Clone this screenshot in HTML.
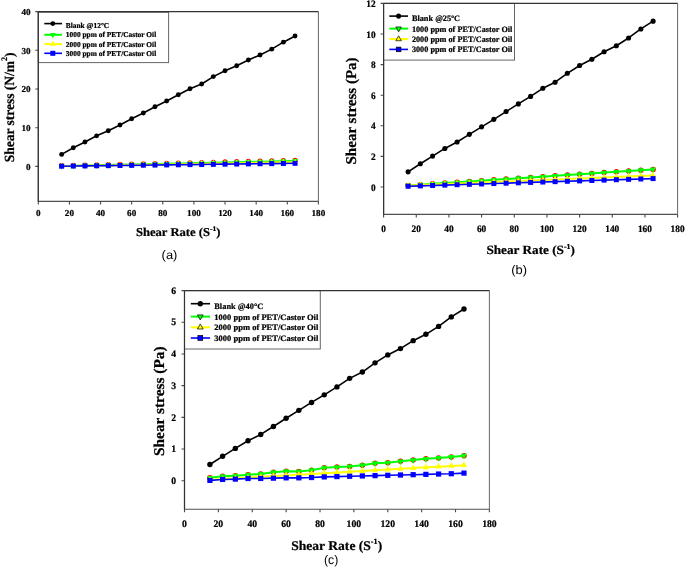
<!DOCTYPE html><html><head><meta charset="utf-8"><style>html,body{margin:0;padding:0;background:#fff;overflow:hidden}svg{display:block;will-change:transform;text-rendering:geometricPrecision}</style></head><body>
<svg width="685" height="567" viewBox="0 0 685 567">
<rect width="685" height="567" fill="#fff"/>
<path d="M318.4 11.6V201.4" fill="none" stroke="#666" stroke-width="1"/>
<path d="M38.3 11.6V201.4H318.4" fill="none" stroke="#505050" stroke-width="1.1"/>
<path d="M38.3 201.4v3M69.42 201.4v3M100.54 201.4v3M131.67 201.4v3M162.79 201.4v3M193.91 201.4v3M225.03 201.4v3M256.16 201.4v3M287.28 201.4v3M318.4 201.4v3M38.3 166.4h-3M38.3 127.7h-3M38.3 89h-3M38.3 50.3h-3M38.3 11.6h-3" stroke="#484848" stroke-width="1.1" fill="none"/>
<text x="38.3" y="216.3" font-family="'Liberation Serif',serif" font-weight="bold" font-size="9.1" text-anchor="middle" stroke="#000" stroke-width="0.22" textLength="4.55" lengthAdjust="spacingAndGlyphs">0</text>
<text x="69.42" y="216.3" font-family="'Liberation Serif',serif" font-weight="bold" font-size="9.1" text-anchor="middle" stroke="#000" stroke-width="0.22" textLength="9.1" lengthAdjust="spacingAndGlyphs">20</text>
<text x="100.54" y="216.3" font-family="'Liberation Serif',serif" font-weight="bold" font-size="9.1" text-anchor="middle" stroke="#000" stroke-width="0.22" textLength="9.1" lengthAdjust="spacingAndGlyphs">40</text>
<text x="131.67" y="216.3" font-family="'Liberation Serif',serif" font-weight="bold" font-size="9.1" text-anchor="middle" stroke="#000" stroke-width="0.22" textLength="9.1" lengthAdjust="spacingAndGlyphs">60</text>
<text x="162.79" y="216.3" font-family="'Liberation Serif',serif" font-weight="bold" font-size="9.1" text-anchor="middle" stroke="#000" stroke-width="0.22" textLength="9.1" lengthAdjust="spacingAndGlyphs">80</text>
<text x="193.91" y="216.3" font-family="'Liberation Serif',serif" font-weight="bold" font-size="9.1" text-anchor="middle" stroke="#000" stroke-width="0.22" textLength="13.65" lengthAdjust="spacingAndGlyphs">100</text>
<text x="225.03" y="216.3" font-family="'Liberation Serif',serif" font-weight="bold" font-size="9.1" text-anchor="middle" stroke="#000" stroke-width="0.22" textLength="13.65" lengthAdjust="spacingAndGlyphs">120</text>
<text x="256.16" y="216.3" font-family="'Liberation Serif',serif" font-weight="bold" font-size="9.1" text-anchor="middle" stroke="#000" stroke-width="0.22" textLength="13.65" lengthAdjust="spacingAndGlyphs">140</text>
<text x="287.28" y="216.3" font-family="'Liberation Serif',serif" font-weight="bold" font-size="9.1" text-anchor="middle" stroke="#000" stroke-width="0.22" textLength="13.65" lengthAdjust="spacingAndGlyphs">160</text>
<text x="318.4" y="216.3" font-family="'Liberation Serif',serif" font-weight="bold" font-size="9.1" text-anchor="middle" stroke="#000" stroke-width="0.22" textLength="13.65" lengthAdjust="spacingAndGlyphs">180</text>
<text x="30.6" y="169.8" font-family="'Liberation Serif',serif" font-weight="bold" font-size="9.1" text-anchor="end" stroke="#000" stroke-width="0.22" textLength="4.55" lengthAdjust="spacingAndGlyphs">0</text>
<text x="30.6" y="131.1" font-family="'Liberation Serif',serif" font-weight="bold" font-size="9.1" text-anchor="end" stroke="#000" stroke-width="0.22" textLength="9.1" lengthAdjust="spacingAndGlyphs">10</text>
<text x="30.6" y="92.4" font-family="'Liberation Serif',serif" font-weight="bold" font-size="9.1" text-anchor="end" stroke="#000" stroke-width="0.22" textLength="9.1" lengthAdjust="spacingAndGlyphs">20</text>
<text x="30.6" y="53.7" font-family="'Liberation Serif',serif" font-weight="bold" font-size="9.1" text-anchor="end" stroke="#000" stroke-width="0.22" textLength="9.1" lengthAdjust="spacingAndGlyphs">30</text>
<text x="30.6" y="15" font-family="'Liberation Serif',serif" font-weight="bold" font-size="9.1" text-anchor="end" stroke="#000" stroke-width="0.22" textLength="9.1" lengthAdjust="spacingAndGlyphs">40</text>
<rect x="38.3" y="12.3" width="130.3" height="50.3" fill="#fff" stroke="#666" stroke-width="1"/>
<path d="M38.3 11.6H318.4" stroke="#333" stroke-width="1.2"/>
<path d="M38.3 11.6V201.4" stroke="#333" stroke-width="1.2"/>
<circle cx="61.64" cy="165.55" r="2.55" fill="#ff0000"/>
<circle cx="73.31" cy="165.29" r="2.55" fill="#ff0000"/>
<circle cx="84.98" cy="165.03" r="2.55" fill="#ff0000"/>
<circle cx="96.65" cy="164.77" r="2.55" fill="#ff0000"/>
<circle cx="108.32" cy="164.51" r="2.55" fill="#ff0000"/>
<circle cx="120" cy="164.25" r="2.55" fill="#ff0000"/>
<circle cx="131.67" cy="163.99" r="2.55" fill="#ff0000"/>
<circle cx="143.34" cy="163.73" r="2.55" fill="#ff0000"/>
<circle cx="155.01" cy="163.47" r="2.55" fill="#ff0000"/>
<circle cx="166.68" cy="163.21" r="2.55" fill="#ff0000"/>
<circle cx="178.35" cy="162.96" r="2.55" fill="#ff0000"/>
<circle cx="190.02" cy="162.7" r="2.55" fill="#ff0000"/>
<circle cx="201.69" cy="162.44" r="2.55" fill="#ff0000"/>
<circle cx="213.36" cy="162.18" r="2.55" fill="#ff0000"/>
<circle cx="225.03" cy="161.92" r="2.55" fill="#ff0000"/>
<circle cx="236.7" cy="161.66" r="2.55" fill="#ff0000"/>
<circle cx="248.38" cy="161.4" r="2.55" fill="#ff0000"/>
<circle cx="260.05" cy="161.14" r="2.55" fill="#ff0000"/>
<circle cx="271.72" cy="160.88" r="2.55" fill="#ff0000"/>
<circle cx="283.39" cy="160.62" r="2.55" fill="#ff0000"/>
<circle cx="295.06" cy="160.36" r="2.55" fill="#ff0000"/>
<polyline points="61.64,166.13 73.31,165.87 84.98,165.61 96.65,165.35 108.32,165.09 120,164.83 131.67,164.57 143.34,164.31 155.01,164.05 166.68,163.8 178.35,163.54 190.02,163.28 201.69,163.02 213.36,162.76 225.03,162.5 236.7,162.24 248.38,161.98 260.05,161.72 271.72,161.46 283.39,161.2 295.06,160.94" fill="none" stroke="#00ff00" stroke-width="2" stroke-linejoin="round"/>
<path d="M58.84 164.26L64.44 164.26L61.64 169.86Z" fill="#00ff00"/>
<path d="M70.51 164L76.11 164L73.31 169.6Z" fill="#00ff00"/>
<path d="M82.18 163.74L87.78 163.74L84.98 169.34Z" fill="#00ff00"/>
<path d="M93.85 163.48L99.45 163.48L96.65 169.08Z" fill="#00ff00"/>
<path d="M105.52 163.23L111.12 163.23L108.32 168.83Z" fill="#00ff00"/>
<path d="M117.2 162.97L122.8 162.97L120 168.57Z" fill="#00ff00"/>
<path d="M128.87 162.71L134.47 162.71L131.67 168.31Z" fill="#00ff00"/>
<path d="M140.54 162.45L146.14 162.45L143.34 168.05Z" fill="#00ff00"/>
<path d="M152.21 162.19L157.81 162.19L155.01 167.79Z" fill="#00ff00"/>
<path d="M163.88 161.93L169.48 161.93L166.68 167.53Z" fill="#00ff00"/>
<path d="M175.55 161.67L181.15 161.67L178.35 167.27Z" fill="#00ff00"/>
<path d="M187.22 161.41L192.82 161.41L190.02 167.01Z" fill="#00ff00"/>
<path d="M198.89 161.15L204.49 161.15L201.69 166.75Z" fill="#00ff00"/>
<path d="M210.56 160.89L216.16 160.89L213.36 166.49Z" fill="#00ff00"/>
<path d="M222.23 160.63L227.83 160.63L225.03 166.23Z" fill="#00ff00"/>
<path d="M233.9 160.37L239.5 160.37L236.7 165.97Z" fill="#00ff00"/>
<path d="M245.57 160.11L251.18 160.11L248.38 165.71Z" fill="#00ff00"/>
<path d="M257.25 159.85L262.85 159.85L260.05 165.45Z" fill="#00ff00"/>
<path d="M268.92 159.6L274.52 159.6L271.72 165.2Z" fill="#00ff00"/>
<path d="M280.59 159.34L286.19 159.34L283.39 164.94Z" fill="#00ff00"/>
<path d="M292.26 159.08L297.86 159.08L295.06 164.68Z" fill="#00ff00"/>
<polyline points="61.64,166.21 73.31,166 84.98,165.8 96.65,165.6 108.32,165.39 120,165.19 131.67,164.99 143.34,164.78 155.01,164.58 166.68,164.38 178.35,164.17 190.02,163.97 201.69,163.77 213.36,163.57 225.03,163.36 236.7,163.16 248.38,162.96 260.05,162.75 271.72,162.55 283.39,162.35 295.06,162.14" fill="none" stroke="#ffff00" stroke-width="2" stroke-linejoin="round"/>
<path d="M58.84 168.07L64.44 168.07L61.64 162.47Z" fill="#ffff00"/>
<path d="M70.51 167.87L76.11 167.87L73.31 162.27Z" fill="#ffff00"/>
<path d="M82.18 167.67L87.78 167.67L84.98 162.07Z" fill="#ffff00"/>
<path d="M93.85 167.46L99.45 167.46L96.65 161.86Z" fill="#ffff00"/>
<path d="M105.52 167.26L111.12 167.26L108.32 161.66Z" fill="#ffff00"/>
<path d="M117.2 167.06L122.8 167.06L120 161.46Z" fill="#ffff00"/>
<path d="M128.87 166.85L134.47 166.85L131.67 161.25Z" fill="#ffff00"/>
<path d="M140.54 166.65L146.14 166.65L143.34 161.05Z" fill="#ffff00"/>
<path d="M152.21 166.45L157.81 166.45L155.01 160.85Z" fill="#ffff00"/>
<path d="M163.88 166.24L169.48 166.24L166.68 160.64Z" fill="#ffff00"/>
<path d="M175.55 166.04L181.15 166.04L178.35 160.44Z" fill="#ffff00"/>
<path d="M187.22 165.84L192.82 165.84L190.02 160.24Z" fill="#ffff00"/>
<path d="M198.89 165.64L204.49 165.64L201.69 160.04Z" fill="#ffff00"/>
<path d="M210.56 165.43L216.16 165.43L213.36 159.83Z" fill="#ffff00"/>
<path d="M222.23 165.23L227.83 165.23L225.03 159.63Z" fill="#ffff00"/>
<path d="M233.9 165.03L239.5 165.03L236.7 159.43Z" fill="#ffff00"/>
<path d="M245.57 164.82L251.18 164.82L248.38 159.22Z" fill="#ffff00"/>
<path d="M257.25 164.62L262.85 164.62L260.05 159.02Z" fill="#ffff00"/>
<path d="M268.92 164.42L274.52 164.42L271.72 158.82Z" fill="#ffff00"/>
<path d="M280.59 164.21L286.19 164.21L283.39 158.61Z" fill="#ffff00"/>
<path d="M292.26 164.01L297.86 164.01L295.06 158.41Z" fill="#ffff00"/>
<polyline points="61.64,166.21 73.31,166.06 84.98,165.92 96.65,165.77 108.32,165.63 120,165.48 131.67,165.34 143.34,165.19 155.01,165.05 166.68,164.9 178.35,164.76 190.02,164.61 201.69,164.47 213.36,164.32 225.03,164.17 236.7,164.03 248.38,163.88 260.05,163.74 271.72,163.59 283.39,163.45 295.06,163.3" fill="none" stroke="#0000ff" stroke-width="1.6" stroke-linejoin="round"/>
<rect x="59.14" y="163.71" width="5" height="5" fill="#0000ff"/>
<rect x="70.81" y="163.56" width="5" height="5" fill="#0000ff"/>
<rect x="82.48" y="163.42" width="5" height="5" fill="#0000ff"/>
<rect x="94.15" y="163.27" width="5" height="5" fill="#0000ff"/>
<rect x="105.82" y="163.13" width="5" height="5" fill="#0000ff"/>
<rect x="117.5" y="162.98" width="5" height="5" fill="#0000ff"/>
<rect x="129.17" y="162.84" width="5" height="5" fill="#0000ff"/>
<rect x="140.84" y="162.69" width="5" height="5" fill="#0000ff"/>
<rect x="152.51" y="162.55" width="5" height="5" fill="#0000ff"/>
<rect x="164.18" y="162.4" width="5" height="5" fill="#0000ff"/>
<rect x="175.85" y="162.26" width="5" height="5" fill="#0000ff"/>
<rect x="187.52" y="162.11" width="5" height="5" fill="#0000ff"/>
<rect x="199.19" y="161.97" width="5" height="5" fill="#0000ff"/>
<rect x="210.86" y="161.82" width="5" height="5" fill="#0000ff"/>
<rect x="222.53" y="161.67" width="5" height="5" fill="#0000ff"/>
<rect x="234.2" y="161.53" width="5" height="5" fill="#0000ff"/>
<rect x="245.88" y="161.38" width="5" height="5" fill="#0000ff"/>
<rect x="257.55" y="161.24" width="5" height="5" fill="#0000ff"/>
<rect x="269.22" y="161.09" width="5" height="5" fill="#0000ff"/>
<rect x="280.89" y="160.95" width="5" height="5" fill="#0000ff"/>
<rect x="292.56" y="160.8" width="5" height="5" fill="#0000ff"/>
<polyline points="61.64,154.4 73.31,147.82 84.98,142.02 96.65,135.83 108.32,130.8 120,124.99 131.67,118.8 143.34,112.99 155.01,106.8 166.68,101 178.35,94.81 190.02,88.81 201.69,83.97 213.36,76.62 225.03,70.81 236.7,65.78 248.38,59.98 260.05,54.94 271.72,49.14 283.39,42.17 295.06,35.98" fill="none" stroke="#000" stroke-width="1.6" stroke-linejoin="round"/>
<circle cx="61.64" cy="154.4" r="2.45" fill="#000"/>
<circle cx="73.31" cy="147.82" r="2.45" fill="#000"/>
<circle cx="84.98" cy="142.02" r="2.45" fill="#000"/>
<circle cx="96.65" cy="135.83" r="2.45" fill="#000"/>
<circle cx="108.32" cy="130.8" r="2.45" fill="#000"/>
<circle cx="120" cy="124.99" r="2.45" fill="#000"/>
<circle cx="131.67" cy="118.8" r="2.45" fill="#000"/>
<circle cx="143.34" cy="112.99" r="2.45" fill="#000"/>
<circle cx="155.01" cy="106.8" r="2.45" fill="#000"/>
<circle cx="166.68" cy="101" r="2.45" fill="#000"/>
<circle cx="178.35" cy="94.81" r="2.45" fill="#000"/>
<circle cx="190.02" cy="88.81" r="2.45" fill="#000"/>
<circle cx="201.69" cy="83.97" r="2.45" fill="#000"/>
<circle cx="213.36" cy="76.62" r="2.45" fill="#000"/>
<circle cx="225.03" cy="70.81" r="2.45" fill="#000"/>
<circle cx="236.7" cy="65.78" r="2.45" fill="#000"/>
<circle cx="248.38" cy="59.98" r="2.45" fill="#000"/>
<circle cx="260.05" cy="54.94" r="2.45" fill="#000"/>
<circle cx="271.72" cy="49.14" r="2.45" fill="#000"/>
<circle cx="283.39" cy="42.17" r="2.45" fill="#000"/>
<circle cx="295.06" cy="35.98" r="2.45" fill="#000"/>
<path d="M44.3 23.6H62" stroke="#000" stroke-width="1.6"/>
<circle cx="52.8" cy="23.6" r="2.45" fill="#000"/>
<text x="65.8" y="27.9" font-family="'Liberation Serif',serif" font-weight="bold" font-size="7.5" text-anchor="start" stroke="#000" stroke-width="0.22" textLength="43.4" lengthAdjust="spacingAndGlyphs">Blank @12°C</text>
<path d="M44.3 34.8H62" stroke="#00ff00" stroke-width="2"/>
<path d="M49.9 33.1L55.7 33.1L52.8 38.2Z" fill="#00ff00"/>
<text x="65.8" y="37.4" font-family="'Liberation Serif',serif" font-weight="bold" font-size="7.5" text-anchor="start" stroke="#000" stroke-width="0.22" textLength="90.4" lengthAdjust="spacingAndGlyphs">1000 ppm of PET/Castor Oil</text>
<path d="M44.3 44.1H62" stroke="#ffff00" stroke-width="2"/>
<path d="M49.9 45.8L55.7 45.8L52.8 40.7Z" fill="#ffff00"/>
<text x="65.8" y="46.8" font-family="'Liberation Serif',serif" font-weight="bold" font-size="7.5" text-anchor="start" stroke="#000" stroke-width="0.22" textLength="90.4" lengthAdjust="spacingAndGlyphs">2000 ppm of PET/Castor Oil</text>
<path d="M44.3 53.3H62" stroke="#0000ff" stroke-width="1.6"/>
<rect x="50.3" y="50.8" width="5" height="5" fill="#0000ff"/>
<text x="65.8" y="56.1" font-family="'Liberation Serif',serif" font-weight="bold" font-size="7.5" text-anchor="start" stroke="#000" stroke-width="0.22" textLength="90.4" lengthAdjust="spacingAndGlyphs">3000 ppm of PET/Castor Oil</text>
<text x="135.9" y="235.6" font-family="'Liberation Serif',serif" font-weight="bold" font-size="12" text-anchor="start" stroke="#000" stroke-width="0.22" textLength="74.18" lengthAdjust="spacingAndGlyphs">Shear Rate (S</text>
<text x="210.08" y="230.56" font-family="'Liberation Serif',serif" font-weight="bold" font-size="7.2" text-anchor="start" stroke="#000" stroke-width="0.22" textLength="6.32" lengthAdjust="spacingAndGlyphs">-1</text>
<text x="216.39" y="235.6" font-family="'Liberation Serif',serif" font-weight="bold" font-size="12" text-anchor="start" stroke="#000" stroke-width="0.22" textLength="4.21" lengthAdjust="spacingAndGlyphs">)</text>
<g transform="translate(14 162.3) rotate(-90)">
<text x="0" y="0" font-family="'Liberation Serif',serif" font-weight="bold" font-size="14" text-anchor="start" stroke="#000" stroke-width="0.22" textLength="101.27" lengthAdjust="spacingAndGlyphs">Shear stress (N/m</text>
<text x="101.27" y="-7" font-family="'Liberation Serif',serif" font-weight="bold" font-size="8.4" text-anchor="start" stroke="#000" stroke-width="0.22" textLength="4.04" lengthAdjust="spacingAndGlyphs">2</text>
<text x="105.31" y="0" font-family="'Liberation Serif',serif" font-weight="bold" font-size="14" text-anchor="start" stroke="#000" stroke-width="0.22" textLength="4.49" lengthAdjust="spacingAndGlyphs">)</text>
</g>
<text x="161.6" y="259" font-family="'Liberation Sans',sans-serif" font-weight="normal" font-size="12.3" text-anchor="start" textLength="15.8" lengthAdjust="spacingAndGlyphs">(a)</text>
<path d="M677.6 3.4V214.4" fill="none" stroke="#666" stroke-width="1"/>
<path d="M383.6 3.4V214.4H677.6" fill="none" stroke="#505050" stroke-width="1.1"/>
<path d="M383.6 214.4v3M416.27 214.4v3M448.93 214.4v3M481.6 214.4v3M514.27 214.4v3M546.93 214.4v3M579.6 214.4v3M612.27 214.4v3M644.93 214.4v3M677.6 214.4v3M383.6 187h-3M383.6 156.4h-3M383.6 125.8h-3M383.6 95.2h-3M383.6 64.6h-3M383.6 34h-3M383.6 3.4h-3" stroke="#484848" stroke-width="1.1" fill="none"/>
<text x="383.6" y="231.6" font-family="'Liberation Serif',serif" font-weight="bold" font-size="9.8" text-anchor="middle" stroke="#000" stroke-width="0.22" textLength="4.66" lengthAdjust="spacingAndGlyphs">0</text>
<text x="416.27" y="231.6" font-family="'Liberation Serif',serif" font-weight="bold" font-size="9.8" text-anchor="middle" stroke="#000" stroke-width="0.22" textLength="9.31" lengthAdjust="spacingAndGlyphs">20</text>
<text x="448.93" y="231.6" font-family="'Liberation Serif',serif" font-weight="bold" font-size="9.8" text-anchor="middle" stroke="#000" stroke-width="0.22" textLength="9.31" lengthAdjust="spacingAndGlyphs">40</text>
<text x="481.6" y="231.6" font-family="'Liberation Serif',serif" font-weight="bold" font-size="9.8" text-anchor="middle" stroke="#000" stroke-width="0.22" textLength="9.31" lengthAdjust="spacingAndGlyphs">60</text>
<text x="514.27" y="231.6" font-family="'Liberation Serif',serif" font-weight="bold" font-size="9.8" text-anchor="middle" stroke="#000" stroke-width="0.22" textLength="9.31" lengthAdjust="spacingAndGlyphs">80</text>
<text x="546.93" y="231.6" font-family="'Liberation Serif',serif" font-weight="bold" font-size="9.8" text-anchor="middle" stroke="#000" stroke-width="0.22" textLength="13.96" lengthAdjust="spacingAndGlyphs">100</text>
<text x="579.6" y="231.6" font-family="'Liberation Serif',serif" font-weight="bold" font-size="9.8" text-anchor="middle" stroke="#000" stroke-width="0.22" textLength="13.96" lengthAdjust="spacingAndGlyphs">120</text>
<text x="612.27" y="231.6" font-family="'Liberation Serif',serif" font-weight="bold" font-size="9.8" text-anchor="middle" stroke="#000" stroke-width="0.22" textLength="13.96" lengthAdjust="spacingAndGlyphs">140</text>
<text x="644.93" y="231.6" font-family="'Liberation Serif',serif" font-weight="bold" font-size="9.8" text-anchor="middle" stroke="#000" stroke-width="0.22" textLength="13.96" lengthAdjust="spacingAndGlyphs">160</text>
<text x="677.6" y="231.6" font-family="'Liberation Serif',serif" font-weight="bold" font-size="9.8" text-anchor="middle" stroke="#000" stroke-width="0.22" textLength="13.96" lengthAdjust="spacingAndGlyphs">180</text>
<text x="375.6" y="190.6" font-family="'Liberation Serif',serif" font-weight="bold" font-size="9.8" text-anchor="end" stroke="#000" stroke-width="0.22" textLength="4.66" lengthAdjust="spacingAndGlyphs">0</text>
<text x="375.6" y="160" font-family="'Liberation Serif',serif" font-weight="bold" font-size="9.8" text-anchor="end" stroke="#000" stroke-width="0.22" textLength="4.66" lengthAdjust="spacingAndGlyphs">2</text>
<text x="375.6" y="129.4" font-family="'Liberation Serif',serif" font-weight="bold" font-size="9.8" text-anchor="end" stroke="#000" stroke-width="0.22" textLength="4.66" lengthAdjust="spacingAndGlyphs">4</text>
<text x="375.6" y="98.8" font-family="'Liberation Serif',serif" font-weight="bold" font-size="9.8" text-anchor="end" stroke="#000" stroke-width="0.22" textLength="4.66" lengthAdjust="spacingAndGlyphs">6</text>
<text x="375.6" y="68.2" font-family="'Liberation Serif',serif" font-weight="bold" font-size="9.8" text-anchor="end" stroke="#000" stroke-width="0.22" textLength="4.66" lengthAdjust="spacingAndGlyphs">8</text>
<text x="375.6" y="37.6" font-family="'Liberation Serif',serif" font-weight="bold" font-size="9.8" text-anchor="end" stroke="#000" stroke-width="0.22" textLength="9.31" lengthAdjust="spacingAndGlyphs">10</text>
<text x="375.6" y="7" font-family="'Liberation Serif',serif" font-weight="bold" font-size="9.8" text-anchor="end" stroke="#000" stroke-width="0.22" textLength="9.31" lengthAdjust="spacingAndGlyphs">12</text>
<rect x="383.6" y="3.4" width="130.9" height="56.7" fill="#fff" stroke="#666" stroke-width="1"/>
<path d="M383.6 3.4H677.6" stroke="#333" stroke-width="1.2"/>
<path d="M383.6 3.4V214.4" stroke="#333" stroke-width="1.2"/>
<circle cx="408.1" cy="185.47" r="2.75" fill="#ff0000"/>
<circle cx="420.35" cy="184.67" r="2.75" fill="#ff0000"/>
<circle cx="432.6" cy="183.86" r="2.75" fill="#ff0000"/>
<circle cx="444.85" cy="183.06" r="2.75" fill="#ff0000"/>
<circle cx="457.1" cy="182.26" r="2.75" fill="#ff0000"/>
<circle cx="469.35" cy="181.45" r="2.75" fill="#ff0000"/>
<circle cx="481.6" cy="180.65" r="2.75" fill="#ff0000"/>
<circle cx="493.85" cy="179.85" r="2.75" fill="#ff0000"/>
<circle cx="506.1" cy="179.04" r="2.75" fill="#ff0000"/>
<circle cx="518.35" cy="178.24" r="2.75" fill="#ff0000"/>
<circle cx="530.6" cy="177.44" r="2.75" fill="#ff0000"/>
<circle cx="542.85" cy="176.63" r="2.75" fill="#ff0000"/>
<circle cx="555.1" cy="175.83" r="2.75" fill="#ff0000"/>
<circle cx="567.35" cy="175.03" r="2.75" fill="#ff0000"/>
<circle cx="579.6" cy="174.22" r="2.75" fill="#ff0000"/>
<circle cx="591.85" cy="173.42" r="2.75" fill="#ff0000"/>
<circle cx="604.1" cy="172.62" r="2.75" fill="#ff0000"/>
<circle cx="616.35" cy="171.81" r="2.75" fill="#ff0000"/>
<circle cx="628.6" cy="171.01" r="2.75" fill="#ff0000"/>
<circle cx="640.85" cy="170.21" r="2.75" fill="#ff0000"/>
<circle cx="653.1" cy="169.41" r="2.75" fill="#ff0000"/>
<polyline points="408.1,185.47 420.35,184.67 432.6,183.86 444.85,183.06 457.1,182.26 469.35,181.45 481.6,180.65 493.85,179.85 506.1,179.04 518.35,178.24 530.6,177.44 542.85,176.63 555.1,175.83 567.35,175.03 579.6,174.22 591.85,173.42 604.1,172.62 616.35,171.81 628.6,171.01 640.85,170.21 653.1,169.41" fill="none" stroke="#00ff00" stroke-width="2" stroke-linejoin="round"/>
<path d="M405.3 183.6L410.9 183.6L408.1 189.2Z" fill="#00ff00"/>
<path d="M417.55 182.8L423.15 182.8L420.35 188.4Z" fill="#00ff00"/>
<path d="M429.8 182L435.4 182L432.6 187.6Z" fill="#00ff00"/>
<path d="M442.05 181.19L447.65 181.19L444.85 186.79Z" fill="#00ff00"/>
<path d="M454.3 180.39L459.9 180.39L457.1 185.99Z" fill="#00ff00"/>
<path d="M466.55 179.59L472.15 179.59L469.35 185.19Z" fill="#00ff00"/>
<path d="M478.8 178.78L484.4 178.78L481.6 184.38Z" fill="#00ff00"/>
<path d="M491.05 177.98L496.65 177.98L493.85 183.58Z" fill="#00ff00"/>
<path d="M503.3 177.18L508.9 177.18L506.1 182.78Z" fill="#00ff00"/>
<path d="M515.55 176.37L521.15 176.37L518.35 181.97Z" fill="#00ff00"/>
<path d="M527.8 175.57L533.4 175.57L530.6 181.17Z" fill="#00ff00"/>
<path d="M540.05 174.77L545.65 174.77L542.85 180.37Z" fill="#00ff00"/>
<path d="M552.3 173.96L557.9 173.96L555.1 179.56Z" fill="#00ff00"/>
<path d="M564.55 173.16L570.15 173.16L567.35 178.76Z" fill="#00ff00"/>
<path d="M576.8 172.36L582.4 172.36L579.6 177.96Z" fill="#00ff00"/>
<path d="M589.05 171.55L594.65 171.55L591.85 177.15Z" fill="#00ff00"/>
<path d="M601.3 170.75L606.9 170.75L604.1 176.35Z" fill="#00ff00"/>
<path d="M613.55 169.95L619.15 169.95L616.35 175.55Z" fill="#00ff00"/>
<path d="M625.8 169.14L631.4 169.14L628.6 174.74Z" fill="#00ff00"/>
<path d="M638.05 168.34L643.65 168.34L640.85 173.94Z" fill="#00ff00"/>
<path d="M650.3 167.54L655.9 167.54L653.1 173.14Z" fill="#00ff00"/>
<polyline points="408.1,185.47 420.35,184.97 432.6,184.48 444.85,183.98 457.1,183.48 469.35,182.98 481.6,182.49 493.85,181.99 506.1,181.49 518.35,180.99 530.6,180.5 542.85,180 555.1,179.5 567.35,179.01 579.6,178.51 591.85,178.01 604.1,177.51 616.35,177.02 628.6,176.52 640.85,176.02 653.1,175.53" fill="none" stroke="#ffff00" stroke-width="2" stroke-linejoin="round"/>
<path d="M405.3 187.34L410.9 187.34L408.1 181.74Z" fill="#ffff00"/>
<path d="M417.55 186.84L423.15 186.84L420.35 181.24Z" fill="#ffff00"/>
<path d="M429.8 186.34L435.4 186.34L432.6 180.74Z" fill="#ffff00"/>
<path d="M442.05 185.84L447.65 185.84L444.85 180.24Z" fill="#ffff00"/>
<path d="M454.3 185.35L459.9 185.35L457.1 179.75Z" fill="#ffff00"/>
<path d="M466.55 184.85L472.15 184.85L469.35 179.25Z" fill="#ffff00"/>
<path d="M478.8 184.35L484.4 184.35L481.6 178.75Z" fill="#ffff00"/>
<path d="M491.05 183.86L496.65 183.86L493.85 178.26Z" fill="#ffff00"/>
<path d="M503.3 183.36L508.9 183.36L506.1 177.76Z" fill="#ffff00"/>
<path d="M515.55 182.86L521.15 182.86L518.35 177.26Z" fill="#ffff00"/>
<path d="M527.8 182.36L533.4 182.36L530.6 176.76Z" fill="#ffff00"/>
<path d="M540.05 181.87L545.65 181.87L542.85 176.27Z" fill="#ffff00"/>
<path d="M552.3 181.37L557.9 181.37L555.1 175.77Z" fill="#ffff00"/>
<path d="M564.55 180.87L570.15 180.87L567.35 175.27Z" fill="#ffff00"/>
<path d="M576.8 180.38L582.4 180.38L579.6 174.78Z" fill="#ffff00"/>
<path d="M589.05 179.88L594.65 179.88L591.85 174.28Z" fill="#ffff00"/>
<path d="M601.3 179.38L606.9 179.38L604.1 173.78Z" fill="#ffff00"/>
<path d="M613.55 178.88L619.15 178.88L616.35 173.28Z" fill="#ffff00"/>
<path d="M625.8 178.39L631.4 178.39L628.6 172.79Z" fill="#ffff00"/>
<path d="M638.05 177.89L643.65 177.89L640.85 172.29Z" fill="#ffff00"/>
<path d="M650.3 177.39L655.9 177.39L653.1 171.79Z" fill="#ffff00"/>
<polyline points="408.1,186.24 420.35,185.85 432.6,185.47 444.85,185.09 457.1,184.71 469.35,184.32 481.6,183.94 493.85,183.56 506.1,183.18 518.35,182.79 530.6,182.41 542.85,182.03 555.1,181.65 567.35,181.26 579.6,180.88 591.85,180.5 604.1,180.12 616.35,179.73 628.6,179.35 640.85,178.97 653.1,178.59" fill="none" stroke="#0000ff" stroke-width="1.6" stroke-linejoin="round"/>
<rect x="405.6" y="183.74" width="5" height="5" fill="#0000ff"/>
<rect x="417.85" y="183.35" width="5" height="5" fill="#0000ff"/>
<rect x="430.1" y="182.97" width="5" height="5" fill="#0000ff"/>
<rect x="442.35" y="182.59" width="5" height="5" fill="#0000ff"/>
<rect x="454.6" y="182.21" width="5" height="5" fill="#0000ff"/>
<rect x="466.85" y="181.82" width="5" height="5" fill="#0000ff"/>
<rect x="479.1" y="181.44" width="5" height="5" fill="#0000ff"/>
<rect x="491.35" y="181.06" width="5" height="5" fill="#0000ff"/>
<rect x="503.6" y="180.68" width="5" height="5" fill="#0000ff"/>
<rect x="515.85" y="180.29" width="5" height="5" fill="#0000ff"/>
<rect x="528.1" y="179.91" width="5" height="5" fill="#0000ff"/>
<rect x="540.35" y="179.53" width="5" height="5" fill="#0000ff"/>
<rect x="552.6" y="179.15" width="5" height="5" fill="#0000ff"/>
<rect x="564.85" y="178.76" width="5" height="5" fill="#0000ff"/>
<rect x="577.1" y="178.38" width="5" height="5" fill="#0000ff"/>
<rect x="589.35" y="178" width="5" height="5" fill="#0000ff"/>
<rect x="601.6" y="177.62" width="5" height="5" fill="#0000ff"/>
<rect x="613.85" y="177.23" width="5" height="5" fill="#0000ff"/>
<rect x="626.1" y="176.85" width="5" height="5" fill="#0000ff"/>
<rect x="638.35" y="176.47" width="5" height="5" fill="#0000ff"/>
<rect x="650.6" y="176.09" width="5" height="5" fill="#0000ff"/>
<polyline points="408.1,171.85 420.35,163.74 432.6,156.09 444.85,148.44 457.1,142.02 469.35,134.37 481.6,126.87 493.85,119.37 506.1,111.57 518.35,103.92 530.6,96.42 542.85,88.31 555.1,82.2 567.35,73.32 579.6,65.52 591.85,59.25 604.1,51.75 616.35,45.78 628.6,37.98 640.85,28.95 653.1,21.15" fill="none" stroke="#000" stroke-width="1.6" stroke-linejoin="round"/>
<circle cx="408.1" cy="171.85" r="2.55" fill="#000"/>
<circle cx="420.35" cy="163.74" r="2.55" fill="#000"/>
<circle cx="432.6" cy="156.09" r="2.55" fill="#000"/>
<circle cx="444.85" cy="148.44" r="2.55" fill="#000"/>
<circle cx="457.1" cy="142.02" r="2.55" fill="#000"/>
<circle cx="469.35" cy="134.37" r="2.55" fill="#000"/>
<circle cx="481.6" cy="126.87" r="2.55" fill="#000"/>
<circle cx="493.85" cy="119.37" r="2.55" fill="#000"/>
<circle cx="506.1" cy="111.57" r="2.55" fill="#000"/>
<circle cx="518.35" cy="103.92" r="2.55" fill="#000"/>
<circle cx="530.6" cy="96.42" r="2.55" fill="#000"/>
<circle cx="542.85" cy="88.31" r="2.55" fill="#000"/>
<circle cx="555.1" cy="82.2" r="2.55" fill="#000"/>
<circle cx="567.35" cy="73.32" r="2.55" fill="#000"/>
<circle cx="579.6" cy="65.52" r="2.55" fill="#000"/>
<circle cx="591.85" cy="59.25" r="2.55" fill="#000"/>
<circle cx="604.1" cy="51.75" r="2.55" fill="#000"/>
<circle cx="616.35" cy="45.78" r="2.55" fill="#000"/>
<circle cx="628.6" cy="37.98" r="2.55" fill="#000"/>
<circle cx="640.85" cy="28.95" r="2.55" fill="#000"/>
<circle cx="653.1" cy="21.15" r="2.55" fill="#000"/>
<path d="M389.3 16.1H408" stroke="#000" stroke-width="1.6"/>
<circle cx="398.6" cy="16.1" r="2.55" fill="#000"/>
<text x="411.9" y="21.1" font-family="'Liberation Serif',serif" font-weight="bold" font-size="8.3" text-anchor="start" stroke="#000" stroke-width="0.22" textLength="48" lengthAdjust="spacingAndGlyphs">Blank @25ºC</text>
<path d="M389.3 28.6H408" stroke="#00ff00" stroke-width="2"/>
<path d="M395.8 26.96L401.4 26.96L398.6 31.89Z" fill="#00ff00" stroke="#000" stroke-width="0.7" stroke-linejoin="miter"/>
<text x="411.9" y="31.6" font-family="'Liberation Serif',serif" font-weight="bold" font-size="8.3" text-anchor="start" stroke="#000" stroke-width="0.22" textLength="100.5" lengthAdjust="spacingAndGlyphs">1000 ppm of PET/Castor Oil</text>
<path d="M389.3 39.1H408" stroke="#ffff00" stroke-width="2"/>
<path d="M395.8 40.74L401.4 40.74L398.6 35.81Z" fill="#ffff00" stroke="#000" stroke-width="0.7" stroke-linejoin="miter"/>
<text x="411.9" y="42.1" font-family="'Liberation Serif',serif" font-weight="bold" font-size="8.3" text-anchor="start" stroke="#000" stroke-width="0.22" textLength="100.5" lengthAdjust="spacingAndGlyphs">2000 ppm of PET/Castor Oil</text>
<path d="M389.3 49.4H408" stroke="#0000ff" stroke-width="1.6"/>
<rect x="396.3" y="47.1" width="4.6" height="4.6" fill="#0000ff" stroke="#000" stroke-width="0.7"/>
<text x="411.9" y="52.3" font-family="'Liberation Serif',serif" font-weight="bold" font-size="8.3" text-anchor="start" stroke="#000" stroke-width="0.22" textLength="100.5" lengthAdjust="spacingAndGlyphs">3000 ppm of PET/Castor Oil</text>
<text x="486.4" y="253.9" font-family="'Liberation Serif',serif" font-weight="bold" font-size="12.6" text-anchor="start" stroke="#000" stroke-width="0.22" textLength="77.59" lengthAdjust="spacingAndGlyphs">Shear Rate (S</text>
<text x="563.99" y="248.61" font-family="'Liberation Serif',serif" font-weight="bold" font-size="7.56" text-anchor="start" stroke="#000" stroke-width="0.22" textLength="6.61" lengthAdjust="spacingAndGlyphs">-1</text>
<text x="570.6" y="253.9" font-family="'Liberation Serif',serif" font-weight="bold" font-size="12.6" text-anchor="start" stroke="#000" stroke-width="0.22" textLength="4.4" lengthAdjust="spacingAndGlyphs">)</text>
<g transform="translate(355.7 164.5) rotate(-90)">
<text x="0" y="0" font-family="'Liberation Serif',serif" font-weight="bold" font-size="15" text-anchor="start" stroke="#000" stroke-width="0.22" textLength="107.1" lengthAdjust="spacingAndGlyphs">Shear stress (Pa)</text>
</g>
<text x="511.2" y="274.3" font-family="'Liberation Sans',sans-serif" font-weight="normal" font-size="12.4" text-anchor="start" textLength="15.8" lengthAdjust="spacingAndGlyphs">(b)</text>
<path d="M489.4 290.6V509.3" fill="none" stroke="#666" stroke-width="1"/>
<path d="M184.5 290.6V509.3H489.4" fill="none" stroke="#505050" stroke-width="1.1"/>
<path d="M184.5 509.3v3M218.38 509.3v3M252.26 509.3v3M286.13 509.3v3M320.01 509.3v3M353.89 509.3v3M387.77 509.3v3M421.64 509.3v3M455.52 509.3v3M489.4 509.3v3M184.5 480.7h-3M184.5 449.02h-3M184.5 417.33h-3M184.5 385.65h-3M184.5 353.97h-3M184.5 322.28h-3M184.5 290.6h-3" stroke="#484848" stroke-width="1.1" fill="none"/>
<text x="184.5" y="527.2" font-family="'Liberation Serif',serif" font-weight="bold" font-size="10" text-anchor="middle" stroke="#000" stroke-width="0.22" textLength="4.85" lengthAdjust="spacingAndGlyphs">0</text>
<text x="218.38" y="527.2" font-family="'Liberation Serif',serif" font-weight="bold" font-size="10" text-anchor="middle" stroke="#000" stroke-width="0.22" textLength="9.7" lengthAdjust="spacingAndGlyphs">20</text>
<text x="252.26" y="527.2" font-family="'Liberation Serif',serif" font-weight="bold" font-size="10" text-anchor="middle" stroke="#000" stroke-width="0.22" textLength="9.7" lengthAdjust="spacingAndGlyphs">40</text>
<text x="286.13" y="527.2" font-family="'Liberation Serif',serif" font-weight="bold" font-size="10" text-anchor="middle" stroke="#000" stroke-width="0.22" textLength="9.7" lengthAdjust="spacingAndGlyphs">60</text>
<text x="320.01" y="527.2" font-family="'Liberation Serif',serif" font-weight="bold" font-size="10" text-anchor="middle" stroke="#000" stroke-width="0.22" textLength="9.7" lengthAdjust="spacingAndGlyphs">80</text>
<text x="353.89" y="527.2" font-family="'Liberation Serif',serif" font-weight="bold" font-size="10" text-anchor="middle" stroke="#000" stroke-width="0.22" textLength="14.55" lengthAdjust="spacingAndGlyphs">100</text>
<text x="387.77" y="527.2" font-family="'Liberation Serif',serif" font-weight="bold" font-size="10" text-anchor="middle" stroke="#000" stroke-width="0.22" textLength="14.55" lengthAdjust="spacingAndGlyphs">120</text>
<text x="421.64" y="527.2" font-family="'Liberation Serif',serif" font-weight="bold" font-size="10" text-anchor="middle" stroke="#000" stroke-width="0.22" textLength="14.55" lengthAdjust="spacingAndGlyphs">140</text>
<text x="455.52" y="527.2" font-family="'Liberation Serif',serif" font-weight="bold" font-size="10" text-anchor="middle" stroke="#000" stroke-width="0.22" textLength="14.55" lengthAdjust="spacingAndGlyphs">160</text>
<text x="489.4" y="527.2" font-family="'Liberation Serif',serif" font-weight="bold" font-size="10" text-anchor="middle" stroke="#000" stroke-width="0.22" textLength="14.55" lengthAdjust="spacingAndGlyphs">180</text>
<text x="176" y="483.9" font-family="'Liberation Serif',serif" font-weight="bold" font-size="10" text-anchor="end" stroke="#000" stroke-width="0.22" textLength="4.85" lengthAdjust="spacingAndGlyphs">0</text>
<text x="176" y="452.22" font-family="'Liberation Serif',serif" font-weight="bold" font-size="10" text-anchor="end" stroke="#000" stroke-width="0.22" textLength="4.85" lengthAdjust="spacingAndGlyphs">1</text>
<text x="176" y="420.53" font-family="'Liberation Serif',serif" font-weight="bold" font-size="10" text-anchor="end" stroke="#000" stroke-width="0.22" textLength="4.85" lengthAdjust="spacingAndGlyphs">2</text>
<text x="176" y="388.85" font-family="'Liberation Serif',serif" font-weight="bold" font-size="10" text-anchor="end" stroke="#000" stroke-width="0.22" textLength="4.85" lengthAdjust="spacingAndGlyphs">3</text>
<text x="176" y="357.17" font-family="'Liberation Serif',serif" font-weight="bold" font-size="10" text-anchor="end" stroke="#000" stroke-width="0.22" textLength="4.85" lengthAdjust="spacingAndGlyphs">4</text>
<text x="176" y="325.48" font-family="'Liberation Serif',serif" font-weight="bold" font-size="10" text-anchor="end" stroke="#000" stroke-width="0.22" textLength="4.85" lengthAdjust="spacingAndGlyphs">5</text>
<text x="176" y="293.8" font-family="'Liberation Serif',serif" font-weight="bold" font-size="10" text-anchor="end" stroke="#000" stroke-width="0.22" textLength="4.85" lengthAdjust="spacingAndGlyphs">6</text>
<rect x="184.5" y="290.6" width="135.8" height="58.4" fill="#fff" stroke="#666" stroke-width="1"/>
<path d="M184.5 290.6H489.4" stroke="#333" stroke-width="1.2"/>
<path d="M184.5 290.6V509.3" stroke="#333" stroke-width="1.2"/>
<circle cx="209.91" cy="477.85" r="2.75" fill="#ff0000"/>
<circle cx="222.61" cy="476.26" r="2.75" fill="#ff0000"/>
<circle cx="235.32" cy="475.63" r="2.75" fill="#ff0000"/>
<circle cx="248.02" cy="474.68" r="2.75" fill="#ff0000"/>
<circle cx="260.73" cy="474.05" r="2.75" fill="#ff0000"/>
<circle cx="273.43" cy="472.15" r="2.75" fill="#ff0000"/>
<circle cx="286.13" cy="471.19" r="2.75" fill="#ff0000"/>
<circle cx="298.84" cy="471.51" r="2.75" fill="#ff0000"/>
<circle cx="311.54" cy="470.24" r="2.75" fill="#ff0000"/>
<circle cx="324.25" cy="467.71" r="2.75" fill="#ff0000"/>
<circle cx="336.95" cy="467.08" r="2.75" fill="#ff0000"/>
<circle cx="349.65" cy="466.44" r="2.75" fill="#ff0000"/>
<circle cx="362.36" cy="465.18" r="2.75" fill="#ff0000"/>
<circle cx="375.06" cy="463.27" r="2.75" fill="#ff0000"/>
<circle cx="387.77" cy="462.64" r="2.75" fill="#ff0000"/>
<circle cx="400.47" cy="461.37" r="2.75" fill="#ff0000"/>
<circle cx="413.17" cy="460.11" r="2.75" fill="#ff0000"/>
<circle cx="425.88" cy="458.84" r="2.75" fill="#ff0000"/>
<circle cx="438.58" cy="457.89" r="2.75" fill="#ff0000"/>
<circle cx="451.29" cy="456.94" r="2.75" fill="#ff0000"/>
<circle cx="463.99" cy="455.67" r="2.75" fill="#ff0000"/>
<polyline points="209.91,477.85 222.61,476.26 235.32,475.63 248.02,474.68 260.73,474.05 273.43,472.15 286.13,471.19 298.84,471.51 311.54,470.24 324.25,467.71 336.95,467.08 349.65,466.44 362.36,465.18 375.06,463.27 387.77,462.64 400.47,461.37 413.17,460.11 425.88,458.84 438.58,457.89 451.29,456.94 463.99,455.67" fill="none" stroke="#00ff00" stroke-width="2" stroke-linejoin="round"/>
<path d="M207.01 475.92L212.81 475.92L209.91 481.72Z" fill="#00ff00"/>
<path d="M219.71 474.33L225.51 474.33L222.61 480.13Z" fill="#00ff00"/>
<path d="M232.42 473.7L238.22 473.7L235.32 479.5Z" fill="#00ff00"/>
<path d="M245.12 472.75L250.92 472.75L248.02 478.55Z" fill="#00ff00"/>
<path d="M257.83 472.11L263.62 472.11L260.73 477.91Z" fill="#00ff00"/>
<path d="M270.53 470.21L276.33 470.21L273.43 476.01Z" fill="#00ff00"/>
<path d="M283.23 469.26L289.03 469.26L286.13 475.06Z" fill="#00ff00"/>
<path d="M295.94 469.58L301.74 469.58L298.84 475.38Z" fill="#00ff00"/>
<path d="M308.64 468.31L314.44 468.31L311.54 474.11Z" fill="#00ff00"/>
<path d="M321.35 465.78L327.15 465.78L324.25 471.58Z" fill="#00ff00"/>
<path d="M334.05 465.14L339.85 465.14L336.95 470.94Z" fill="#00ff00"/>
<path d="M346.75 464.51L352.55 464.51L349.65 470.31Z" fill="#00ff00"/>
<path d="M359.46 463.24L365.26 463.24L362.36 469.04Z" fill="#00ff00"/>
<path d="M372.16 461.34L377.96 461.34L375.06 467.14Z" fill="#00ff00"/>
<path d="M384.87 460.71L390.67 460.71L387.77 466.51Z" fill="#00ff00"/>
<path d="M397.57 459.44L403.37 459.44L400.47 465.24Z" fill="#00ff00"/>
<path d="M410.27 458.17L416.07 458.17L413.17 463.97Z" fill="#00ff00"/>
<path d="M422.98 456.91L428.78 456.91L425.88 462.71Z" fill="#00ff00"/>
<path d="M435.68 455.95L441.48 455.95L438.58 461.75Z" fill="#00ff00"/>
<path d="M448.39 455L454.19 455L451.29 460.8Z" fill="#00ff00"/>
<path d="M461.09 453.74L466.89 453.74L463.99 459.54Z" fill="#00ff00"/>
<polyline points="209.91,479.75 222.61,479.02 235.32,478.29 248.02,477.56 260.73,476.83 273.43,476.11 286.13,475.38 298.84,474.65 311.54,473.92 324.25,473.19 336.95,472.46 349.65,471.73 362.36,471 375.06,470.28 387.77,469.55 400.47,468.82 413.17,468.09 425.88,467.36 438.58,466.63 451.29,465.9 463.99,465.18" fill="none" stroke="#ffff00" stroke-width="2" stroke-linejoin="round"/>
<path d="M207.01 481.68L212.81 481.68L209.91 475.88Z" fill="#ffff00"/>
<path d="M219.71 480.95L225.51 480.95L222.61 475.15Z" fill="#ffff00"/>
<path d="M232.42 480.23L238.22 480.23L235.32 474.43Z" fill="#ffff00"/>
<path d="M245.12 479.5L250.92 479.5L248.02 473.7Z" fill="#ffff00"/>
<path d="M257.83 478.77L263.62 478.77L260.73 472.97Z" fill="#ffff00"/>
<path d="M270.53 478.04L276.33 478.04L273.43 472.24Z" fill="#ffff00"/>
<path d="M283.23 477.31L289.03 477.31L286.13 471.51Z" fill="#ffff00"/>
<path d="M295.94 476.58L301.74 476.58L298.84 470.78Z" fill="#ffff00"/>
<path d="M308.64 475.85L314.44 475.85L311.54 470.05Z" fill="#ffff00"/>
<path d="M321.35 475.12L327.15 475.12L324.25 469.32Z" fill="#ffff00"/>
<path d="M334.05 474.4L339.85 474.4L336.95 468.6Z" fill="#ffff00"/>
<path d="M346.75 473.67L352.55 473.67L349.65 467.87Z" fill="#ffff00"/>
<path d="M359.46 472.94L365.26 472.94L362.36 467.14Z" fill="#ffff00"/>
<path d="M372.16 472.21L377.96 472.21L375.06 466.41Z" fill="#ffff00"/>
<path d="M384.87 471.48L390.67 471.48L387.77 465.68Z" fill="#ffff00"/>
<path d="M397.57 470.75L403.37 470.75L400.47 464.95Z" fill="#ffff00"/>
<path d="M410.27 470.02L416.07 470.02L413.17 464.22Z" fill="#ffff00"/>
<path d="M422.98 469.29L428.78 469.29L425.88 463.49Z" fill="#ffff00"/>
<path d="M435.68 468.57L441.48 468.57L438.58 462.77Z" fill="#ffff00"/>
<path d="M448.39 467.84L454.19 467.84L451.29 462.04Z" fill="#ffff00"/>
<path d="M461.09 467.11L466.89 467.11L463.99 461.31Z" fill="#ffff00"/>
<polyline points="209.91,480.38 222.61,479.43 235.32,479.12 248.02,478.48 260.73,478.48 273.43,478.17 286.13,477.85 298.84,477.85 311.54,477.53 324.25,476.9 336.95,476.58 349.65,476.26 362.36,475.95 375.06,475.63 387.77,475.31 400.47,475 413.17,474.68 425.88,474.36 438.58,474.05 451.29,473.73 463.99,473.1" fill="none" stroke="#0000ff" stroke-width="1.6" stroke-linejoin="round"/>
<rect x="207.31" y="477.78" width="5.2" height="5.2" fill="#0000ff"/>
<rect x="220.01" y="476.83" width="5.2" height="5.2" fill="#0000ff"/>
<rect x="232.72" y="476.52" width="5.2" height="5.2" fill="#0000ff"/>
<rect x="245.42" y="475.88" width="5.2" height="5.2" fill="#0000ff"/>
<rect x="258.12" y="475.88" width="5.2" height="5.2" fill="#0000ff"/>
<rect x="270.83" y="475.57" width="5.2" height="5.2" fill="#0000ff"/>
<rect x="283.53" y="475.25" width="5.2" height="5.2" fill="#0000ff"/>
<rect x="296.24" y="475.25" width="5.2" height="5.2" fill="#0000ff"/>
<rect x="308.94" y="474.93" width="5.2" height="5.2" fill="#0000ff"/>
<rect x="321.65" y="474.3" width="5.2" height="5.2" fill="#0000ff"/>
<rect x="334.35" y="473.98" width="5.2" height="5.2" fill="#0000ff"/>
<rect x="347.05" y="473.66" width="5.2" height="5.2" fill="#0000ff"/>
<rect x="359.76" y="473.35" width="5.2" height="5.2" fill="#0000ff"/>
<rect x="372.46" y="473.03" width="5.2" height="5.2" fill="#0000ff"/>
<rect x="385.17" y="472.71" width="5.2" height="5.2" fill="#0000ff"/>
<rect x="397.87" y="472.4" width="5.2" height="5.2" fill="#0000ff"/>
<rect x="410.57" y="472.08" width="5.2" height="5.2" fill="#0000ff"/>
<rect x="423.28" y="471.76" width="5.2" height="5.2" fill="#0000ff"/>
<rect x="435.98" y="471.45" width="5.2" height="5.2" fill="#0000ff"/>
<rect x="448.69" y="471.13" width="5.2" height="5.2" fill="#0000ff"/>
<rect x="461.39" y="470.5" width="5.2" height="5.2" fill="#0000ff"/>
<polyline points="209.91,464.54 222.61,456.3 235.32,448.38 248.02,440.78 260.73,434.44 273.43,426.52 286.13,418.28 298.84,410.36 311.54,402.44 324.25,394.84 336.95,386.92 349.65,378.36 362.36,372.03 375.06,362.84 387.77,354.92 400.47,348.58 413.17,340.66 425.88,334.32 438.58,326.4 451.29,316.9 463.99,308.98" fill="none" stroke="#000" stroke-width="1.6" stroke-linejoin="round"/>
<circle cx="209.91" cy="464.54" r="2.7" fill="#000"/>
<circle cx="222.61" cy="456.3" r="2.7" fill="#000"/>
<circle cx="235.32" cy="448.38" r="2.7" fill="#000"/>
<circle cx="248.02" cy="440.78" r="2.7" fill="#000"/>
<circle cx="260.73" cy="434.44" r="2.7" fill="#000"/>
<circle cx="273.43" cy="426.52" r="2.7" fill="#000"/>
<circle cx="286.13" cy="418.28" r="2.7" fill="#000"/>
<circle cx="298.84" cy="410.36" r="2.7" fill="#000"/>
<circle cx="311.54" cy="402.44" r="2.7" fill="#000"/>
<circle cx="324.25" cy="394.84" r="2.7" fill="#000"/>
<circle cx="336.95" cy="386.92" r="2.7" fill="#000"/>
<circle cx="349.65" cy="378.36" r="2.7" fill="#000"/>
<circle cx="362.36" cy="372.03" r="2.7" fill="#000"/>
<circle cx="375.06" cy="362.84" r="2.7" fill="#000"/>
<circle cx="387.77" cy="354.92" r="2.7" fill="#000"/>
<circle cx="400.47" cy="348.58" r="2.7" fill="#000"/>
<circle cx="413.17" cy="340.66" r="2.7" fill="#000"/>
<circle cx="425.88" cy="334.32" r="2.7" fill="#000"/>
<circle cx="438.58" cy="326.4" r="2.7" fill="#000"/>
<circle cx="451.29" cy="316.9" r="2.7" fill="#000"/>
<circle cx="463.99" cy="308.98" r="2.7" fill="#000"/>
<path d="M190.8 303.7H210" stroke="#000" stroke-width="1.6"/>
<circle cx="200.3" cy="303.7" r="2.7" fill="#000"/>
<text x="214.3" y="308.9" font-family="'Liberation Serif',serif" font-weight="bold" font-size="8.3" text-anchor="start" stroke="#000" stroke-width="0.22" textLength="49" lengthAdjust="spacingAndGlyphs">Blank @40°C</text>
<path d="M190.8 316.6H210" stroke="#00ff00" stroke-width="2"/>
<path d="M197.4 314.9L203.2 314.9L200.3 320Z" fill="#00ff00" stroke="#000" stroke-width="0.7" stroke-linejoin="miter"/>
<text x="214.3" y="319.5" font-family="'Liberation Serif',serif" font-weight="bold" font-size="8.3" text-anchor="start" stroke="#000" stroke-width="0.22" textLength="104" lengthAdjust="spacingAndGlyphs">1000 ppm of PET/Castor Oil</text>
<path d="M190.8 327.3H210" stroke="#ffff00" stroke-width="2"/>
<path d="M197.4 329L203.2 329L200.3 323.9Z" fill="#ffff00" stroke="#000" stroke-width="0.7" stroke-linejoin="miter"/>
<text x="214.3" y="330.4" font-family="'Liberation Serif',serif" font-weight="bold" font-size="8.3" text-anchor="start" stroke="#000" stroke-width="0.22" textLength="104" lengthAdjust="spacingAndGlyphs">2000 ppm of PET/Castor Oil</text>
<path d="M190.8 338H210" stroke="#0000ff" stroke-width="1.6"/>
<rect x="197.9" y="335.6" width="4.8" height="4.8" fill="#0000ff" stroke="#000" stroke-width="0.7"/>
<text x="214.3" y="340.9" font-family="'Liberation Serif',serif" font-weight="bold" font-size="8.3" text-anchor="start" stroke="#000" stroke-width="0.22" textLength="104" lengthAdjust="spacingAndGlyphs">3000 ppm of PET/Castor Oil</text>
<text x="291.2" y="549.8" font-family="'Liberation Serif',serif" font-weight="bold" font-size="13.2" text-anchor="start" stroke="#000" stroke-width="0.22" textLength="79.69" lengthAdjust="spacingAndGlyphs">Shear Rate (S</text>
<text x="370.89" y="544.26" font-family="'Liberation Serif',serif" font-weight="bold" font-size="7.92" text-anchor="start" stroke="#000" stroke-width="0.22" textLength="6.79" lengthAdjust="spacingAndGlyphs">-1</text>
<text x="377.68" y="549.8" font-family="'Liberation Serif',serif" font-weight="bold" font-size="13.2" text-anchor="start" stroke="#000" stroke-width="0.22" textLength="4.52" lengthAdjust="spacingAndGlyphs">)</text>
<g transform="translate(164.2 456) rotate(-90)">
<text x="0" y="0" font-family="'Liberation Serif',serif" font-weight="bold" font-size="15" text-anchor="start" stroke="#000" stroke-width="0.22" textLength="109.6" lengthAdjust="spacingAndGlyphs">Shear stress (Pa)</text>
</g>
<text x="324" y="564" font-family="'Liberation Sans',sans-serif" font-weight="normal" font-size="12.6" text-anchor="start" textLength="14.4" lengthAdjust="spacingAndGlyphs">(c)</text>
</svg></body></html>
